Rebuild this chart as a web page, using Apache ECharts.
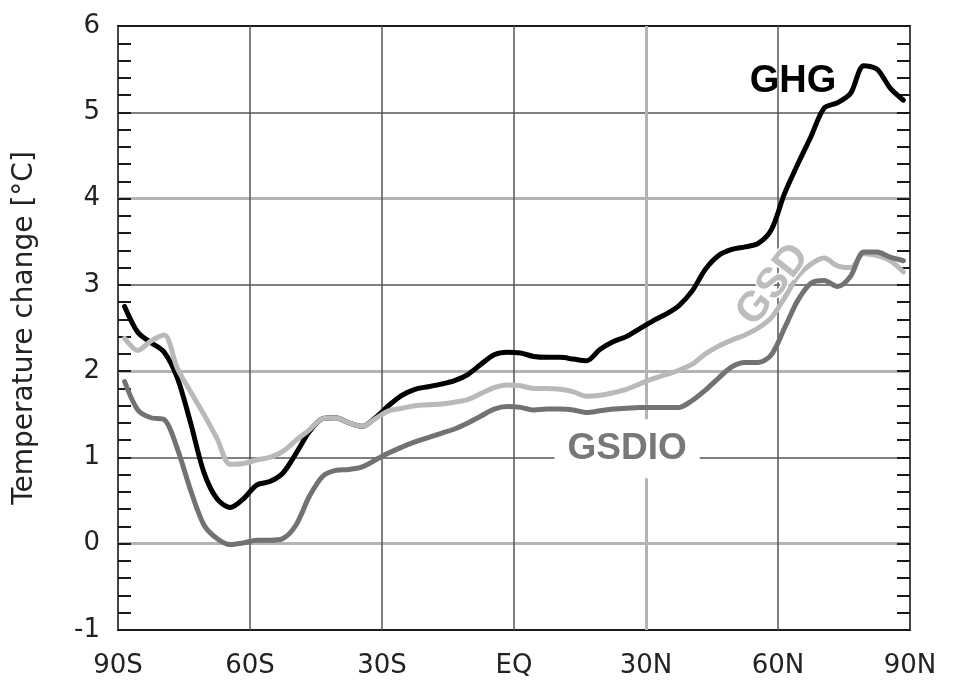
<!DOCTYPE html>
<html><head><meta charset="utf-8">
<script src="https://cdn.jsdelivr.net/npm/echarts@6/dist/echarts.min.js"></script>
<style>html,body{margin:0;padding:0;background:#fff}#c{width:959px;height:693px}</style>
</head><body><div id="c"></div>
<script>
// Latitude (deg, negative = south)
const latitudes = [-88.5,-85.5,-82.5,-79.5,-76.5,-73.5,-70.5,-67.5,-64.5,-61.5,-58.5,-55.5,-52.5,-49.5,-46.5,-43.5,-40.5,-37.5,-34.5,-31.5,-28.5,-25.5,-22.5,-19.5,-16.5,-13.5,-10.5,-7.5,-4.5,-1.5,1.5,4.5,7.5,10.5,13.5,16.5,19.5,22.5,25.5,28.5,31.5,34.5,37.5,40.5,43.5,46.5,49.5,52.5,55.5,58.5,61.5,64.5,67.5,70.5,73.5,76.5,79.5,82.5,85.5,88.5];
const ghg = [2.75,2.45,2.33,2.22,1.92,1.40,0.83,0.52,0.42,0.52,0.68,0.72,0.82,1.05,1.30,1.45,1.46,1.40,1.36,1.46,1.60,1.72,1.79,1.82,1.85,1.89,1.96,2.08,2.19,2.22,2.21,2.17,2.16,2.16,2.14,2.12,2.25,2.34,2.40,2.49,2.58,2.66,2.76,2.93,3.18,3.34,3.41,3.44,3.48,3.64,4.06,4.40,4.72,5.05,5.11,5.22,5.54,5.50,5.28,5.14];
const gsd = [2.38,2.24,2.35,2.42,2.03,1.76,1.50,1.22,0.92,0.93,0.97,1.00,1.07,1.20,1.32,1.45,1.46,1.40,1.36,1.45,1.54,1.57,1.60,1.61,1.62,1.64,1.67,1.74,1.81,1.84,1.83,1.80,1.80,1.79,1.76,1.71,1.72,1.75,1.79,1.85,1.91,1.96,2.01,2.08,2.20,2.29,2.36,2.42,2.50,2.62,2.85,3.10,3.24,3.31,3.22,3.20,3.36,3.34,3.28,3.15];
const gsdio = [1.88,1.55,1.46,1.44,1.10,0.62,0.22,0.06,-0.01,0.01,0.04,0.04,0.06,0.22,0.55,0.78,0.85,0.86,0.89,0.97,1.05,1.12,1.18,1.23,1.28,1.33,1.40,1.48,1.56,1.59,1.58,1.55,1.56,1.56,1.55,1.52,1.54,1.56,1.57,1.58,1.58,1.58,1.58,1.66,1.78,1.92,2.05,2.10,2.10,2.19,2.50,2.82,3.02,3.05,2.98,3.10,3.38,3.38,3.32,3.28];

const xTickValues = [-90,-60,-30,0,30,60,90];
const xTickLabels = ['90S','60S','30S','EQ','30N','60N','90N'];
const yTickValues = [-1,0,1,2,3,4,5,6];

const seriesNames = ['GHG','GSD','GSDIO'];
const seriesColors = ['#000000','#b9b9b9','#727272'];
// label anchors in data space [lat, value]
const labelAnchors = [[63.4,5.36],[58.9,3.0],[25.7,1.10]];

const FONT = '"DejaVu Sans", "Liberation Sans", Arial, sans-serif';
const LFONT = '"Liberation Sans", Arial, Helvetica, sans-serif';
const T = 'rgba(0,0,0,0)';
const DARK = '#555555', LIGHT = '#b3b3b3';

const pairs = arr => latitudes.map((l,i)=>[l, arr[i]]);
const values = [ghg, gsd, gsdio];

const chart = echarts.init(document.getElementById('c'), null, {renderer:'canvas'});

const xDark = xTickValues.map(v => v === 30 ? T : DARK);
const xLight = xTickValues.map(v => v === 30 ? LIGHT : T);
const yDark = yTickValues.map(v => (v === 1 || v === 3 || v === 5) ? DARK : T);
const yLight = yTickValues.map(v => (v === 0 || v === 2 || v === 4) ? LIGHT : T);

const tickStyle = {show:true, inside:true, length:13, lineStyle:{color:'#1a1a1a', width:2}};
const minorStyle = {show:true, splitNumber:5, length:13, lineStyle:{color:'#1a1a1a', width:2}};

chart.setOption({
  animation:false,
  backgroundColor:'#ffffff',
  grid:{left:118, right:49, top:26, bottom:63, show:true, borderColor:'#1a1a1a', borderWidth:2, backgroundColor:T},
  xAxis:[
    {type:'value', min:-90, max:90, interval:30, position:'bottom',
     axisLine:{show:false, onZero:false}, axisTick:{show:false},
     axisLabel:{fontSize:26, color:'#222', margin:23, fontFamily:FONT,
       formatter: v => xTickLabels[xTickValues.indexOf(v)]},
     splitLine:{show:true, lineStyle:{color:xDark, width:1.5}}},
    {type:'value', min:-90, max:90, interval:30, position:'bottom',
     axisLine:{show:false, onZero:false}, axisTick:{show:false}, axisLabel:{show:false},
     splitLine:{show:true, lineStyle:{color:xLight, width:3}}}
  ],
  yAxis:[
    {type:'value', min:-1, max:6, interval:1, position:'left',
     axisLine:{show:false, onZero:false}, axisTick:tickStyle, minorTick:minorStyle,
     axisLabel:{fontSize:26, color:'#222', margin:18, fontFamily:FONT},
     splitLine:{show:true, lineStyle:{color:yDark, width:1.5}},
     name:'Temperature change [°C]', nameLocation:'middle', nameGap:79,
     nameTextStyle:{fontSize:28, color:'#222', fontFamily:FONT}},
    {type:'value', min:-1, max:6, interval:1, position:'right',
     axisLine:{show:false, onZero:false}, axisTick:tickStyle, minorTick:minorStyle,
     axisLabel:{show:false},
     splitLine:{show:true, lineStyle:{color:yLight, width:3}}}
  ],
  series: seriesNames.map((n,i)=>({
    name:n, type:'line', xAxisIndex:0, yAxisIndex:0, data:pairs(values[i]),
    showSymbol:false, smooth:0.3, z:2+i,
    lineStyle:{color:seriesColors[i], width:5, join:'round', cap:'round'}
  }))
});

const px = labelAnchors.map(a => chart.convertToPixel({xAxisIndex:0, yAxisIndex:0}, a));
chart.setOption({
  graphic:[
    {type:'text', x:px[0][0], y:px[0][1], z:50,
     style:{text:'GHG', fill:'#000', font:'bold 38px '+LFONT, align:'center', verticalAlign:'middle'}},
    {type:'text', x:px[1][0], y:px[1][1], z:50, rotation:52*Math.PI/180,
     style:{text:'GSD', fill:'#bdbdbd', font:'bold 42px '+LFONT, align:'center', verticalAlign:'middle',
            stroke:'#fff', lineWidth:3}},
    {type:'text', x:px[2][0], y:px[2][1], z:50,
     style:{text:'GSDIO', fill:'#787878', font:'bold 37px '+LFONT, align:'center', verticalAlign:'middle',
            backgroundColor:'#fff', padding:[11,13]}}
  ]
});
</script></body></html>
